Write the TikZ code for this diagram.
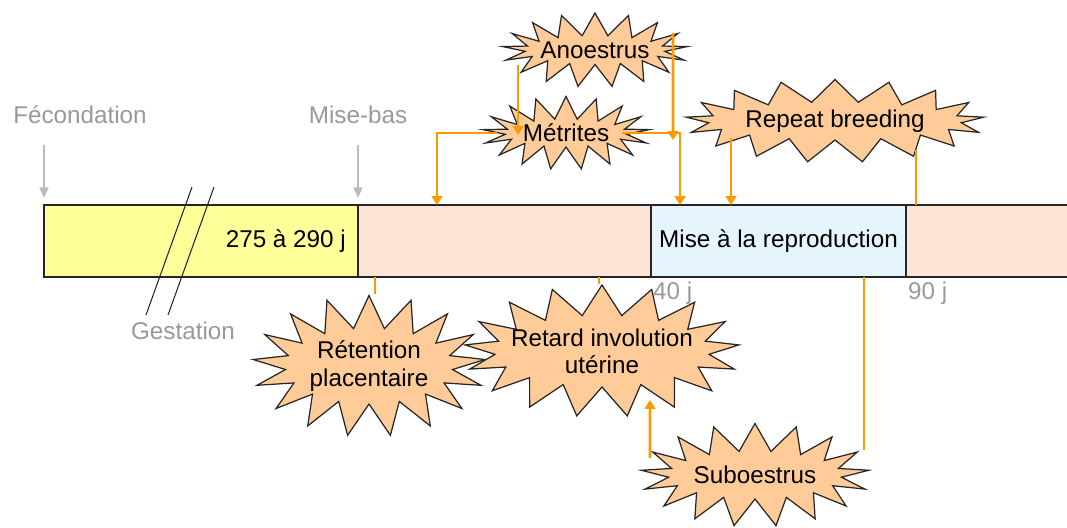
\documentclass[tikz,border=0pt]{standalone}
\usepackage{fontspec}
\setmainfont{Liberation Sans}
\usetikzlibrary{shapes.symbols}
\usetikzlibrary{arrows.meta}

\definecolor{gestyellow}{HTML}{FFFF99}
\definecolor{postpink}{HTML}{FEE4D7}
\definecolor{reproblue}{HTML}{E6F5FC}
\definecolor{burstfill}{HTML}{FFCC99}
\definecolor{linkorange}{HTML}{FF9900}
\definecolor{labelgray}{HTML}{999999}
\definecolor{arrowgray}{HTML}{BBBBBB}

\begin{document}
\begin{tikzpicture}[
    font=\fontsize{13.8}{15.5}\selectfont,
    seg/.style={draw=black!85, line width=0.7pt, minimum height=1.44cm, inner sep=0pt, outer sep=0pt, anchor=north west},
    burst/.style={starburst, random starburst=0, starburst points=17, draw=black!85, fill=burstfill, line width=0.7pt, align=center, inner sep=0pt, starburst point height=0.45cm},
    olink/.style={draw=linkorange, line width=1.6pt},
    oarrow/.style={olink, -{Triangle[width=6pt,length=5pt]}},
    glabel/.style={text=labelgray},
    garrow/.style={draw=arrowgray, line width=1.2pt, -{Triangle[width=5pt,length=6pt]}}
  ]

        \useasboundingbox (0,0) rectangle (21.34,-10.54);

        % the time bar
        \node[seg, fill=gestyellow, minimum width=6.28cm] (gest) at (0.88,-4.10) {};
        \node[seg, fill=postpink, minimum width=5.86cm] (post) at (gest.north east) {};
        \node[seg, fill=reproblue, minimum width=5.10cm] (repro) at (post.north east) {Mise à la reproduction};
        \node[seg, fill=postpink, minimum width=3.60cm] (late) at (repro.north east) {};
        \node[anchor=east] (gdays) at ([xshift=-0.12cm]gest.east) {275 à 290 j};

        % gestation break
        \draw[black!85, line width=0.6pt] (3.84,-3.74) -- (2.92,-6.30);
        \draw[black!85, line width=0.6pt] (4.28,-3.74) -- (3.36,-6.30);

        % the troubles
        \node[burst, minimum height=1.48cm, inner xsep=-0.1cm] (anoe) at (11.90,-1.00) {Anoestrus};
        \node[burst, minimum height=1.46cm] (metr) at (11.32,-2.66) {Métrites};
        \node[burst, minimum height=1.66cm] (rebreed) at (16.70,-2.42) {Repeat breeding};
        \node[burst, minimum height=2.82cm, starburst point height=0.65cm] (reten) at (7.38,-7.32) {Rétention\\placentaire};
        \node[burst, minimum height=2.64cm, inner xsep=-0.3cm, starburst point height=0.6cm] (retard) at (12.04,-7.02) {Retard involution\\utérine};
        \node[burst, minimum height=2.06cm, starburst point height=0.55cm] (subo) at (15.10,-9.50) {Suboestrus};

        % labels
        \node[glabel] (fec) at (1.60,-2.30) {Fécondation};
        \node[glabel] (mbas) at (7.16,-2.30) {Mise-bas};
        \node[glabel] (gestlab) at (3.66,-6.62) {Gestation};
        \node[glabel, anchor=north west, inner sep=1pt] (d40) at ([yshift=-0.06cm]repro.south west) {40 j};
        \node[glabel, anchor=north west, inner sep=1pt] (d90) at ([yshift=-0.06cm]late.south west) {90 j};

        \draw[garrow] ([yshift=1.20cm]gest.north west) -- ([yshift=0.14cm]gest.north west);
        \draw[garrow] ([yshift=1.20cm]gest.north east) -- ([yshift=0.14cm]gest.north east);

        % links above the bar
        \coordinate (m1) at (8.74,-4.10);
        \coordinate (m2) at (13.60,-4.10);
        \coordinate (r1) at (14.62,-4.10);
        \coordinate (r2) at (18.32,-4.10);
        \draw[oarrow] ([xshift=-1.54cm,yshift=-0.30cm]anoe.center) -- ([xshift=-0.96cm,yshift=-0.04cm]metr.center);
        \draw[oarrow] ([xshift=1.56cm,yshift=0.34cm]anoe.center) -- ([xshift=2.14cm,yshift=-0.14cm]metr.center);
        \draw[oarrow] ([xshift=-1.38cm]metr.center) -| (m1);
        \draw[oarrow] ([xshift=1.12cm]metr.center) -| (m2);
        \draw[oarrow] ([yshift=-0.34cm]r1 |- rebreed.center) -- (r1);
        \draw[olink] ([yshift=-0.58cm]r2 |- rebreed.center) -- (r2);

        % links below the bar
        \coordinate (s1) at (7.50,-5.54);
        \coordinate (s2) at (11.98,-5.54);
        \coordinate (s3) at (17.28,-5.54);
        \draw[olink] (s1) -- (s1 |- reten.north);
        \draw[olink] (s2) -- (s2 |- retard.north);
        \draw[olink] (s3) -- ([yshift=0.50cm]s3 |- subo.center);
        \draw[oarrow] ([xshift=-2.10cm,yshift=0.34cm]subo.center) -- ([xshift=0.96cm,yshift=-0.98cm]retard.center);
      \end{tikzpicture}
\end{document}
